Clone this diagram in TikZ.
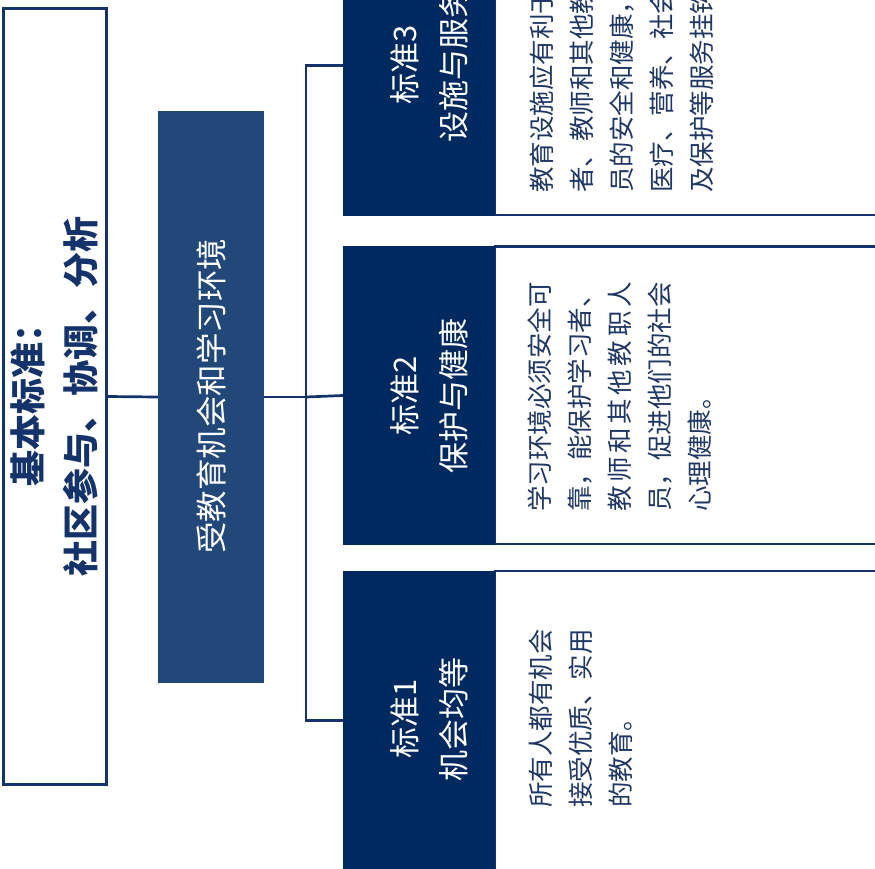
\documentclass[tikz,border=0pt]{standalone}
\usepackage{fontspec}
\newfontfamily\cjksans{Noto Sans CJK SC}
\newfontfamily\cjkserif{Noto Sans CJK SC}
\definecolor{darknavy}{HTML}{002960}
\definecolor{midnavy}{HTML}{22487A}
\definecolor{linenavy}{HTML}{15336B}
\definecolor{textnavy}{HTML}{1E3764}
\begin{document}
\begin{tikzpicture}[x=1pt,y=-1pt,
  leftbox/.style={draw=linenavy,line width=3pt,fill=white,minimum width=103pt,minimum height=776pt,inner sep=0pt},
  midbox/.style={fill=midnavy,minimum width=106pt,minimum height=572pt,inner sep=0pt},
  darkbox/.style={fill=darknavy,minimum width=152pt,inner sep=0pt},
  panel/.style={draw=linenavy,line width=2.5pt,fill=white},
  conn/.style={draw=linenavy,line width=2.7pt,line join=miter},
  bigtext/.style={rotate=90,align=center,inner sep=0pt,font=\cjksans\bfseries\fontsize{36}{53}\selectfont,text=linenavy},
  midtext/.style={rotate=90,align=center,inner sep=0pt,font=\cjksans\fontsize{31.5}{40}\selectfont,text=white},
  darktext/.style={rotate=90,align=center,inner sep=0pt,font=\cjksans\fontsize{31}{49}\selectfont,text=white},
  bodytext/.style={rotate=90,align=left,anchor=north west,inner sep=0pt,font=\cjkserif\fontsize{25.5}{40}\selectfont,text=textnavy}
]
\useasboundingbox (0,0) rectangle (875,868);
\clip (0,0) rectangle (875,868);
\fill[white] (0,0) rectangle (875,868);

% text panels
\draw[panel] (495,-100) rectangle (900,215);
\draw[panel] (495,246.5) rectangle (900,544);
\draw[panel] (495,571) rectangle (900,900);

% boxes
\node[leftbox] (base) at (55,396.5) {};
\node[midbox] (mid) at (211,397) {};
\node[darkbox,minimum height=301pt] (b3) at (419,65.5) {};
\node[darkbox,minimum height=299pt] (b2) at (419,395.5) {};
\node[darkbox,minimum height=299pt] (b1) at (419,720.5) {};

% connectors
\coordinate (bus) at (306,397);
\draw[conn] (base.east) -- (mid.west);
\draw[conn] (mid.east) -- (bus);
\draw[conn] (b3.west) -| (bus) |- (b1.west);
\draw[conn] (bus) -- (b2.west);

% labels
\node[bigtext] (basetext) at (54,396) {基本标准：\\社区参与、协调、分析};
\node[midtext] (midtext) at (211,396) {受教育机会和学习环境};
\node[darktext] (t3) at (429,65) {标准3\\设施与服务};
\node[darktext] (t2) at (429,396) {标准2\\保护与健康};
\node[darktext] (t1) at (429,719) {标准1\\机会均等};

% body texts
\node[bodytext] (d1) at (529,808) {所有人都有机会\\接受优质、实用\\的教育。};
\node[bodytext] (d2) at (528,512) {学习环境必须安全可\\靠，能保护学习者、\\\makebox[229.5pt][s]{教\hfil 师\hfil 和\hfil 其\hfil 他\hfil 教\hfil 职\hfil 人}\\员，促进他们的社会\\心理健康。};
\node[bodytext] (d3) at (530,193) {教育设施应有利于学习\\者、教师和其他教职人\\员的安全和健康，并与\\医疗、营养、社会心理\\及保护等服务挂钩。};
\end{tikzpicture}
\end{document}
